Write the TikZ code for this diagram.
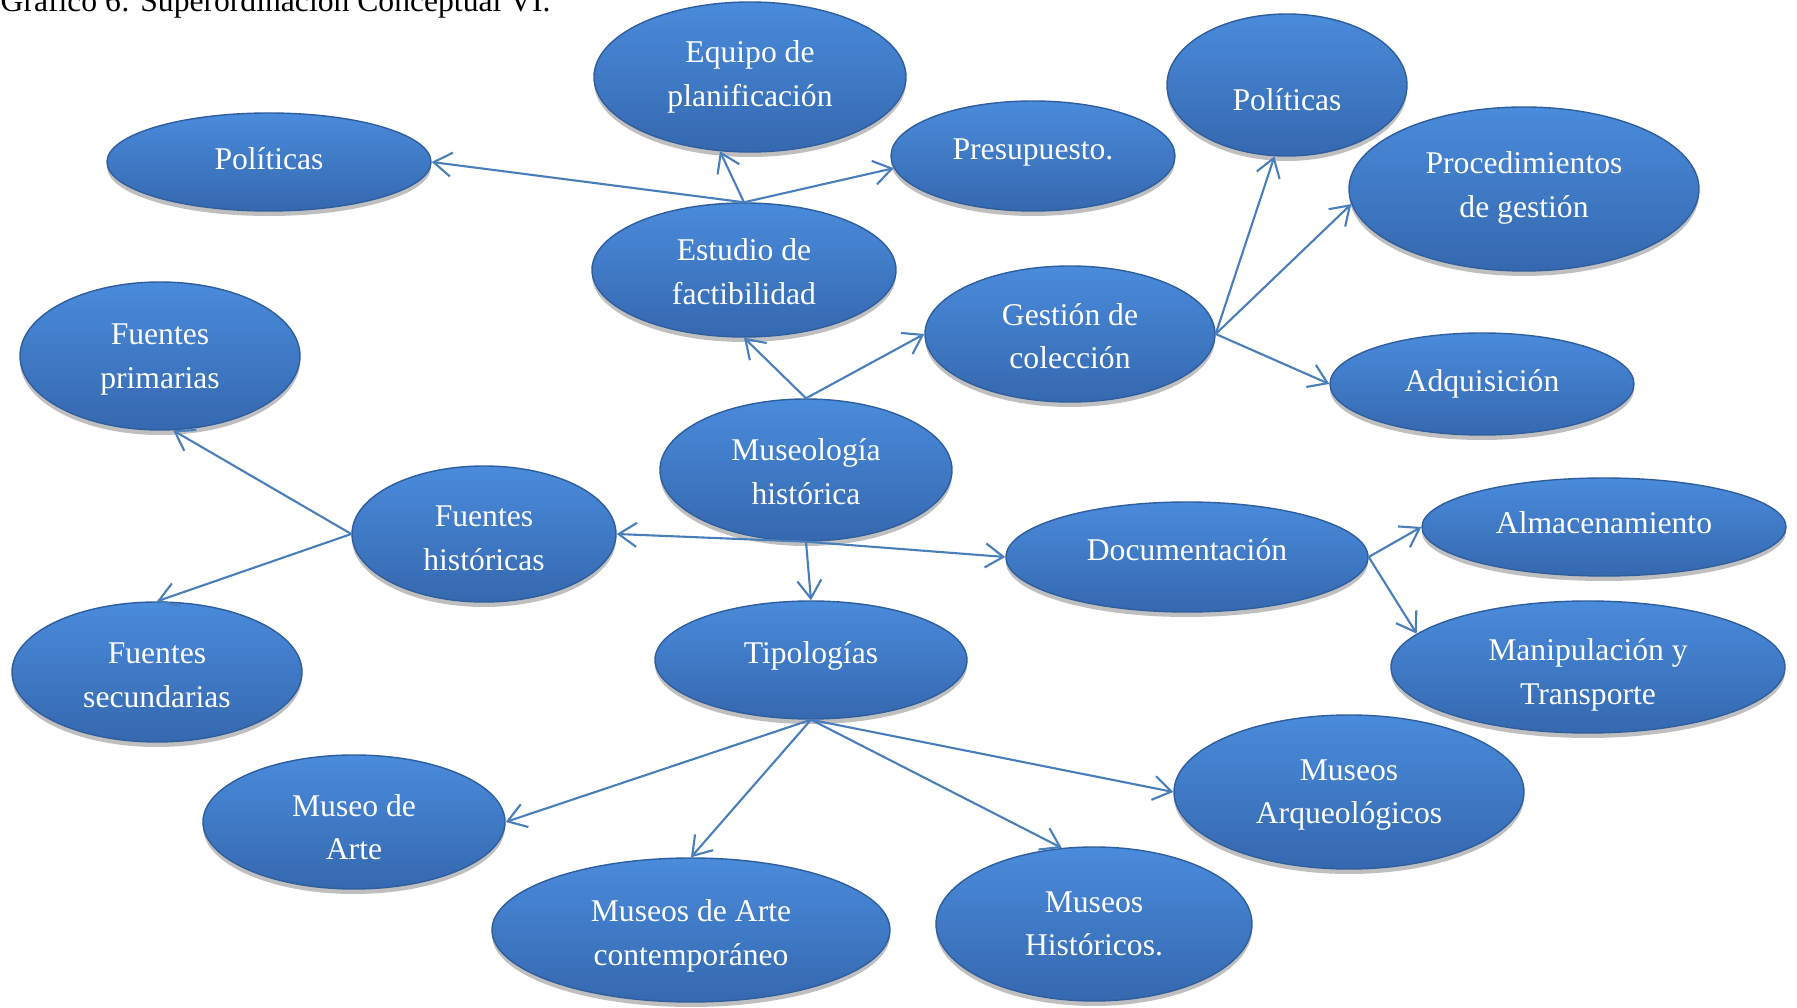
\documentclass[tikz,border=0pt]{standalone}
\usepackage{fontspec}
\setmainfont{Liberation Serif}
\usetikzlibrary{shapes.geometric,arrows.meta,shadows}

\definecolor{bolaA}{HTML}{4A8BDB}
\definecolor{bolaB}{HTML}{3568AF}
\definecolor{borde}{HTML}{2F5E9E}
\definecolor{flecha}{HTML}{4A7EBB}

\begin{document}
\begin{tikzpicture}
  \tikzstyle{bola}=[ellipse,inner sep=0pt,top color=bolaA,bottom color=bolaB,
    draw=borde,line width=0.4pt,
    drop shadow={shadow xshift=0cm,shadow yshift=-0.05cm,opacity=0.25,fill=black}];
  \tikzstyle{texto}=[text=white,align=center,inner sep=0pt,font=\fontsize{9}{12.4}\selectfont];
  \tikzstyle{liga}=[draw=flecha,line width=0.6pt,-{Straight Barb[length=1.8mm,width=2.4mm]}];

  \useasboundingbox (0,0) rectangle (17.97,-10.08);

  % title
  \node[anchor=base west,inner sep=0pt,font=\fontsize{9}{11}\selectfont] (titulo) at (0,-0.115) {Gráfico 6: Superordinación Conceptual VI.};

  % top
  \node[bola,minimum width=3.12cm,minimum height=1.50cm,label={[texto]center:Equipo de\\planificación}] (equipo) at (7.50,-0.77) {};
  \node[bola,minimum width=3.24cm,minimum height=0.98cm,label={[texto,yshift=0.35mm]center:Políticas}] (politA) at (2.69,-1.62) {};
  \node[bola,minimum width=2.84cm,minimum height=1.10cm,label={[texto,yshift=0.35mm]center:Presupuesto.}] (presup) at (10.33,-1.56) {};
  \node[bola,minimum width=2.40cm,minimum height=1.42cm,label={[texto,yshift=-1.5mm]center:Políticas}] (politB) at (12.87,-0.85) {};
  \node[bola,minimum width=3.50cm,minimum height=1.64cm,label={[texto,yshift=0.1mm]center:Procedimientos\\de gestión}] (proced) at (15.24,-1.89) {};
  \node[bola,minimum width=3.04cm,minimum height=1.34cm,label={[texto,yshift=-0.15mm]center:Estudio de\\factibilidad}] (estudio) at (7.44,-2.70) {};
  \node[bola,minimum width=2.90cm,minimum height=1.36cm,label={[texto,yshift=-0.2mm]center:Gestión de\\colección}] (gestion) at (10.70,-3.34) {};
  \node[bola,minimum width=3.04cm,minimum height=1.02cm,label={[texto]center:Adquisición}] (adquis) at (14.82,-3.84) {};

  % middle
  \node[bola,minimum width=2.80cm,minimum height=1.48cm,label={[texto,yshift=-0.35mm]center:Fuentes\\primarias}] (fprim) at (1.60,-3.56) {};
  \node[bola,minimum width=2.92cm,minimum height=1.42cm,label={[texto,yshift=-0.15mm]center:Museología\\histórica}] (museo) at (8.06,-4.70) {};
  \node[bola,minimum width=2.64cm,minimum height=1.36cm,label={[texto,yshift=-0.45mm]center:Fuentes\\históricas}] (fhist) at (4.84,-5.34) {};
  \node[bola,minimum width=3.62cm,minimum height=1.10cm,label={[texto,yshift=0.7mm]center:Documentación}] (docu) at (11.87,-5.57) {};
  \node[bola,minimum width=3.64cm,minimum height=0.98cm,label={[texto,yshift=0.45mm]center:Almacenamiento}] (almac) at (16.04,-5.27) {};
  \node[bola,minimum width=3.94cm,minimum height=1.32cm,label={[texto,yshift=-0.8mm]center:Manipulación y\\Transporte}] (manip) at (15.88,-6.67) {};
  \node[bola,minimum width=2.90cm,minimum height=1.40cm,label={[texto,yshift=-0.35mm]center:Fuentes\\secundarias}] (fsec) at (1.57,-6.72) {};
  \node[bola,minimum width=3.12cm,minimum height=1.18cm,label={[texto,yshift=0.45mm]center:Tipologías}] (tipol) at (8.11,-6.60) {};

  % bottom
  \node[bola,minimum width=3.02cm,minimum height=1.34cm,label={[texto,yshift=-0.5mm]center:Museo de\\Arte}] (marte) at (3.54,-8.22) {};
  \node[bola,minimum width=3.50cm,minimum height=1.54cm,label={[texto,yshift=-0.3mm]center:Museos\\Arqueológicos}] (marq) at (13.49,-7.92) {};
  \node[bola,minimum width=3.98cm,minimum height=1.44cm,label={[texto,yshift=-0.6mm]center:Museos de Arte\\contemporáneo}] (mcont) at (6.91,-9.30) {};
  \node[bola,minimum width=3.16cm,minimum height=1.54cm,label={[texto]center:Museos\\Históricos.}] (mhist) at (10.94,-9.24) {};

  % arrows
  \draw[liga] (estudio.north) -- (politA.east);
  \draw[liga] (estudio.north) -- (equipo.-112);
  \draw[liga] (estudio.north) -- (presup.185);
  \draw[liga] (museo.north) -- (estudio.south);
  \draw[liga] (museo.north) -- (gestion.west);
  \draw[liga] (gestion.east) -- (politB.-100);
  \draw[liga] (gestion.east) -- (proced.185);
  \draw[liga] (gestion.east) -- (adquis.west);
  \draw[liga] (museo.south) -- (tipol.north);
  \draw[liga] (museo.south) -- (fhist.east);
  \draw[liga] (museo.south) -- (docu.west);
  \draw[liga] (fhist.west) -- (fprim.-80);
  \draw[liga] (fhist.west) -- (fsec.north);
  \draw[liga] (docu.east) -- (almac.west);
  \draw[liga] (docu.east) -- (manip.169);
  \draw[liga] (tipol.south) -- (marte.east);
  \draw[liga] (tipol.south) -- (mcont.north);
  \draw[liga] (tipol.south) -- (mhist.113);
  \draw[liga] (tipol.south) -- (marq.west);
\end{tikzpicture}
\end{document}
